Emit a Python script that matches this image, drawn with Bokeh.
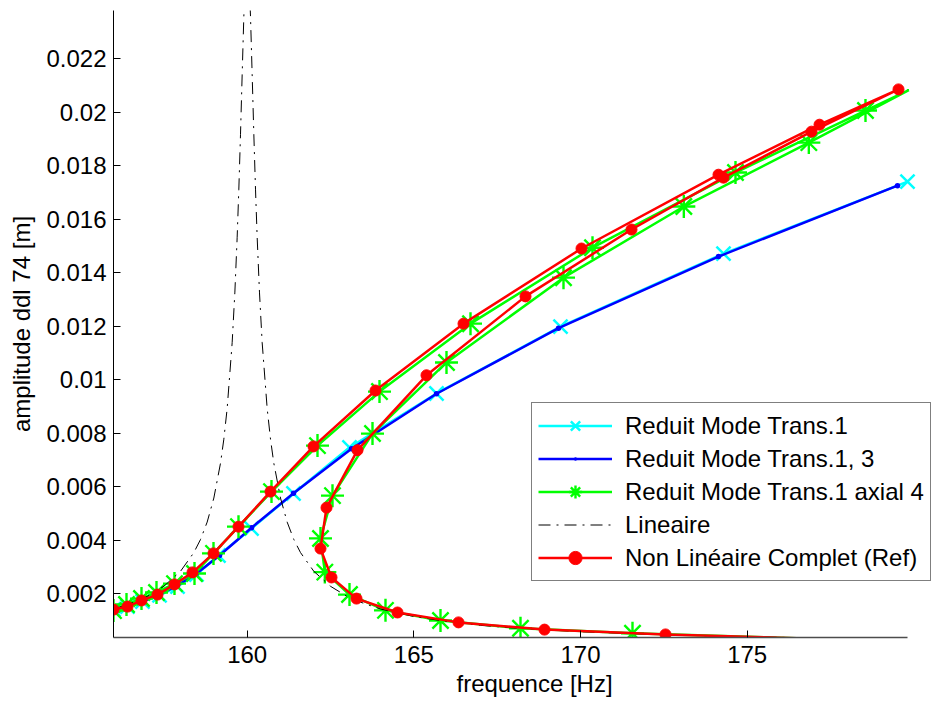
import numpy as np
from bokeh.plotting import figure
from bokeh.models import Range1d, FixedTicker, Legend, LegendItem, Title
from bokeh.embed import file_html
from bokeh.resources import INLINE

# ---------------- data ----------------
# Reduit Mode Trans.1 (cyan, x markers)
cy_f = [155.99, 156.41, 156.86, 157.37, 157.91, 158.48, 159.14, 160.13, 161.39,
        163.07, 165.68, 169.40, 174.29, 179.81]
cy_a = [0.00140, 0.00151, 0.00170, 0.00193, 0.00226, 0.00271, 0.00342, 0.00443,
        0.00574, 0.00746, 0.00948, 0.01198, 0.01471, 0.01740]

# Reduit Mode Trans.1, 3 (blue, dots)
bl_f = [155.99, 156.41, 156.86, 157.37, 157.91, 158.48, 159.17, 160.13, 161.39,
        163.13, 165.68, 169.34, 174.14, 179.51]
bl_a = [0.00140, 0.00151, 0.00170, 0.00196, 0.00230, 0.00275, 0.00342, 0.00446,
        0.00575, 0.00741, 0.00947, 0.01192, 0.01460, 0.01725]

# Reduit Mode Trans.1 axial 4 (green, asterisks)
gr_f = [155.99, 156.38, 156.83, 157.28, 157.82, 158.42, 158.99, 159.74, 160.73,
        162.11, 163.97, 166.70, 170.36, 174.65, 178.55, 179.85, 176.85, 173.10,
        169.49, 165.98, 163.76, 162.56, 162.20, 162.33, 163.07, 164.15, 165.80,
        168.20, 171.56, 177.00]
gr_a = [0.00136, 0.00159, 0.00181, 0.00204, 0.00237, 0.00275, 0.00350, 0.00450,
        0.00581, 0.00753, 0.00955, 0.01209, 0.01493, 0.01774, 0.02006, 0.02082,
        0.01886, 0.01647, 0.01381, 0.01064, 0.00798, 0.00566, 0.00406, 0.00280,
        0.00196, 0.00137, 0.00099, 0.00070, 0.00051, 0.00031]

# Lineaire (black dash-dot)
lin_f = [156.0, 156.5, 157.0, 157.5, 158.0, 158.4, 158.6, 158.8, 159.0, 159.2,
         159.3, 159.4, 159.55, 159.63, 159.7, 159.75, 159.8, 159.85, 159.9, 159.95,
         160.0, 160.05, 160.1, 160.15, 160.2, 160.25, 160.3, 160.37, 160.45, 160.6,
         160.7, 160.8, 161.0, 161.2, 161.4, 161.6, 162.0, 162.5, 163.0, 163.5,
         164.0, 165.0, 166.0, 167.0, 168.0, 170.0, 172.0, 174.0, 176.0, 178.0, 179.8]
lin_a = [0.00142, 0.00163, 0.00189, 0.00227, 0.00283, 0.00353, 0.00402, 0.00467,
         0.00557, 0.00687, 0.00777, 0.00892, 0.01138, 0.01324, 0.01532, 0.01712,
         0.01917, 0.02140, 0.02358, 0.02527, 0.02590, 0.02527, 0.02358, 0.02140,
         0.01917, 0.01712, 0.01532, 0.01324, 0.01138, 0.00892, 0.00777, 0.00687,
         0.00557, 0.00467, 0.00402, 0.00353, 0.00283, 0.00227, 0.00189, 0.00163,
         0.00142, 0.00114, 0.00095, 0.00081, 0.00071, 0.00057, 0.00048, 0.00041,
         0.00036, 0.00032, 0.00029]

# Non Linéaire Complet (Ref) (red, filled circles)
rd_f = [155.99, 156.41, 156.83, 157.31, 157.82, 158.36, 158.99, 159.74, 160.70,
        161.99, 163.85, 166.49, 170.03, 174.14, 177.17, 179.54, 176.93, 174.29,
        171.53, 168.35, 165.38, 163.31, 162.38, 162.20, 162.53, 163.28, 164.51,
        166.34, 168.92, 172.55, 177.00]
rd_a = [0.00140, 0.00151, 0.00174, 0.00196, 0.00234, 0.00279, 0.00350, 0.00450,
        0.00581, 0.00750, 0.00959, 0.01209, 0.01490, 0.01766, 0.01953, 0.02085,
        0.01927, 0.01755, 0.01561, 0.01311, 0.01016, 0.00736, 0.00521, 0.00368,
        0.00260, 0.00181, 0.00129, 0.00092, 0.00065, 0.00047, 0.00031]

x_ticks = [160, 165, 170, 175]
y_ticks = [0.002, 0.004, 0.006, 0.008, 0.01, 0.012, 0.014, 0.016, 0.018, 0.02, 0.022]
y_tick_labels = ["0.002", "0.004", "0.006", "0.008", "0.01", "0.012", "0.014",
                 "0.016", "0.018", "0.02", "0.022"]

labels = ["Reduit Mode Trans.1", "Reduit Mode Trans.1, 3",
          "Reduit Mode Trans.1 axial 4", "Lineaire", "Non Linéaire Complet (Ref)"]

# ---------------- plot ----------------
X0, X1 = 155.99, 179.81          # axis limits
XVIEW = 180.56                   # frame continues to the page edge (legend room)
Y0, Y1 = 0.000355, 0.0238
FONT = "Liberation Sans"
FS = "24px"


def inside(f, a):
    f = np.asarray(f)
    a = np.asarray(a)
    m = (f >= X0) & (f <= X1) & (a >= Y0) & (a <= Y1)
    return f[m], a[m]


p = figure(frame_width=819, frame_height=627, output_backend="svg",
           toolbar_location=None, x_range=Range1d(X0, XVIEW), y_range=Range1d(Y0, Y1),
           min_border_left=113, min_border_right=0, min_border_top=10,
           min_border_bottom=67)
p.outline_line_color = None
p.xgrid.grid_line_color = None
p.ygrid.grid_line_color = None
p.background_fill_color = "white"
p.border_fill_color = "white"

for ax in (p.xaxis[0], p.yaxis[0]):
    ax.major_tick_in = 7
    ax.major_tick_out = 0
    ax.minor_tick_line_color = None
    ax.major_tick_line_color = "black"
    ax.major_label_text_font = FONT
    ax.major_label_text_font_size = FS
    ax.major_label_text_color = "black"
    ax.axis_label_text_font = FONT
    ax.axis_label_text_font_size = FS
    ax.axis_label_text_font_style = "normal"
    ax.axis_label_text_color = "black"

p.xaxis.bounds = (X0, X1)
p.xaxis.axis_line_color = "#4d4d4d"
p.xaxis.axis_line_width = 1.5
p.yaxis.axis_line_color = "black"
p.xaxis.ticker = FixedTicker(ticks=x_ticks)
p.xaxis.major_label_standoff = 8
p.yaxis.ticker = FixedTicker(ticks=y_ticks)
p.yaxis.major_label_overrides = {t: s for t, s in zip(y_ticks, y_tick_labels)}
p.yaxis.major_label_standoff = 7
p.yaxis.axis_label = "amplitude ddl 74 [m]"
p.yaxis.axis_label_standoff = 8

# x label (placed a little right of the frame centre, as in the reference)
p.add_layout(Title(text="frequence [Hz]", align="left", offset=343, standoff=4,
                   text_font=FONT, text_font_size=FS, text_font_style="normal",
                   text_color="black"), "below")

# cyan
cy_l = p.line(cy_f, cy_a, line_color="#00FFFF", line_width=2.5)
f, a = inside(cy_f, cy_a)
cy_m = p.scatter(f, a, marker="x", size=20, line_color="#00FFFF", line_width=2.5)
# blue
bl_l = p.line(bl_f, bl_a, line_color="#0000FF", line_width=2.5)
f, a = inside(bl_f, bl_a)
bl_m = p.scatter(f, a, marker="dot", size=22, line_color="#0000FF", fill_color="#0000FF")
# green
gr_l = p.line(gr_f, gr_a, line_color="#00FF00", line_width=2.5)
f, a = inside(gr_f, gr_a)
gr_m = p.scatter(f, a, marker="asterisk", size=23, line_color="#00FF00", line_width=2.4)
# linear
lin_l = p.line(lin_f, lin_a, line_color="black", line_width=1, line_dash="12 6 2 6")
# red
rd_l = p.line(rd_f, rd_a, line_color="#FF0000", line_width=2.5)
f, a = inside(rd_f, rd_a)
rd_m = p.scatter(f, a, marker="circle", size=11, line_color="#FF0000", fill_color="#FF0000")

legend = Legend(items=[
    LegendItem(label=labels[0], renderers=[cy_l, cy_m]),
    LegendItem(label=labels[1], renderers=[bl_l, bl_m]),
    LegendItem(label=labels[2], renderers=[gr_l, gr_m]),
    LegendItem(label=labels[3], renderers=[lin_l]),
    LegendItem(label=labels[4], renderers=[rd_l, rd_m]),
], location=(418, 56))
legend.label_text_font = FONT
legend.label_text_font_size = FS
legend.label_text_color = "black"
legend.glyph_width = 74
legend.glyph_height = 33
legend.label_height = 33
legend.spacing = 0
legend.padding = 6
legend.margin = 0
legend.label_standoff = 13
legend.border_line_color = "black"
legend.border_line_width = 1
legend.background_fill_color = "white"
legend.background_fill_alpha = 1.0
p.add_layout(legend)

open("out.html", "w").write(file_html(p, INLINE))
